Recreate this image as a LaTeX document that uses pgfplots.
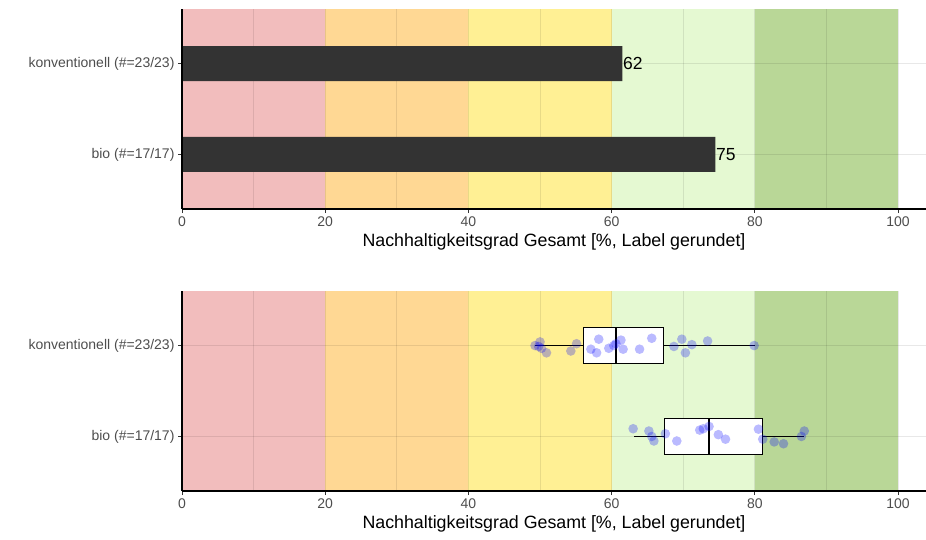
\documentclass[border=0pt]{standalone}
\usepackage{pgfplots}
\pgfplotsset{compat=1.18}
\usepgfplotslibrary{statistics}
\usepackage{fontspec}
\setmainfont{Liberation Sans}
\definecolor{bRed}{HTML}{F2BDBD}
\definecolor{bOrange}{HTML}{FFD894}
\definecolor{bYellow}{HTML}{FFF094}
\definecolor{bLGreen}{HTML}{E5F9D2}
\definecolor{bGreen}{HTML}{B9D797}
\definecolor{barcol}{HTML}{333333}
\definecolor{tickcol}{HTML}{4D4D4D}
\pgfplotsset{
  panel/.style={
    scale only axis, width=744pt, height=200pt,
    xmin=0, xmax=103.9, ymin=0.4, ymax=2.6,
    axis on top,
    axis x line*=bottom, axis y line*=left,
    axis line style={black, line width=1.1pt},
    xtick={0,20,40,60,80,100}, ytick={1,2},
    yticklabels={bio (\#=17/17), konventionell (\#=23/23)},
    tick align=outside, major tick length=4pt,
    tick style={black!80, line width=0.8pt},
    /pgf/number format/assume math mode=true,
    ticklabel style={font=\fontsize{14}{16}\selectfont, text=tickcol},
    xlabel={Nachhaltigkeitsgrad Gesamt [\%, Label gerundet]},
    xlabel style={font=\fontsize{17.8}{20}\selectfont, text=black, yshift=0pt},
    clip=false,
  },
  gridl/.style={black, opacity=0.09, line width=0.8pt, forget plot},
  pts/.style={only marks, mark=*, mark size=4.8pt, color=blue,
    mark options={draw opacity=0, fill opacity=0.27}},
}
\newcommand{\bands}{%
  \addplot[fill=bRed, draw=none, forget plot] coordinates {(0,0.4)(20,0.4)(20,2.6)(0,2.6)} -- cycle;
  \addplot[fill=bOrange, draw=none, forget plot] coordinates {(20,0.4)(40,0.4)(40,2.6)(20,2.6)} -- cycle;
  \addplot[fill=bYellow, draw=none, forget plot] coordinates {(40,0.4)(60,0.4)(60,2.6)(40,2.6)} -- cycle;
  \addplot[fill=bLGreen, draw=none, forget plot] coordinates {(60,0.4)(80,0.4)(80,2.6)(60,2.6)} -- cycle;
  \addplot[fill=bGreen, draw=none, forget plot] coordinates {(80,0.4)(100,0.4)(100,2.6)(80,2.6)} -- cycle;
  \pgfplotsinvokeforeach{10,20,30,40,50,60,70,80,90,100}{%
    \addplot[gridl] coordinates {(##1,0.4)(##1,2.6)};}
  \addplot[gridl] coordinates {(0,1)(103.9,1)};
  \addplot[gridl] coordinates {(0,2)(103.9,2)};
}
\begin{document}
\begin{tikzpicture}
\useasboundingbox (0,0) rectangle (926pt,539pt);
% top panel
\begin{axis}[panel, at={(182pt,330pt)}, anchor=south west]
\bands
\addplot[xbar, fill=barcol, draw=none, bar width=35pt,
  point meta=explicit symbolic, nodes near coords,
  every node near coord/.append style={anchor=west, inner xsep=0.5pt,
    font=\fontsize{17.5}{20}\selectfont, text=black}]
  coordinates {(74.5,1)[75] (61.5,2)[62]};
\end{axis}
% bottom panel
\begin{axis}[panel, at={(182pt,48pt)}, anchor=south west,
  boxplot/every median/.style={line width=2pt},
  boxplot/every whisker/.style={line width=1.1pt}]
\bands
\addplot[boxplot prepared={lower whisker=49.3, lower quartile=56.1, median=60.6,
  upper quartile=67.2, upper whisker=80.0, draw position=2, box extend=0.4,
  whisker extend=0, draw direction=x},
  draw=black, fill=white, line width=1.1pt] coordinates {};
\addplot[boxplot prepared={lower whisker=63.1, lower quartile=67.4, median=73.6,
  upper quartile=81.1, upper whisker=86.8, draw position=1, box extend=0.4,
  whisker extend=0, draw direction=x},
  draw=black, fill=white, line width=1.1pt] coordinates {};
\addplot[pts] table {
x y
49.3 2.00
49.8 1.99
50.0 2.04
50.2 1.97
50.9 1.92
54.3 1.94
55.1 2.02
57.1 1.96
57.9 1.92
58.2 2.07
59.6 1.97
60.3 2.00
60.6 2.02
61.3 2.06
61.6 1.96
63.9 1.96
65.6 2.08
68.7 1.99
69.8 2.07
70.3 1.92
71.2 2.01
73.4 2.05
79.9 2.00
};
\addplot[pts] table {
x y
63.0 1.085
65.2 1.06
65.6 1.00
65.9 0.95
67.5 1.03
69.1 0.95
72.3 1.07
72.8 1.085
73.6 1.11
74.9 1.02
75.9 0.97
80.5 1.08
81.1 0.97
82.7 0.94
84.0 0.92
86.5 1.00
86.9 1.06
};
\end{axis}
\end{tikzpicture}
\end{document}
